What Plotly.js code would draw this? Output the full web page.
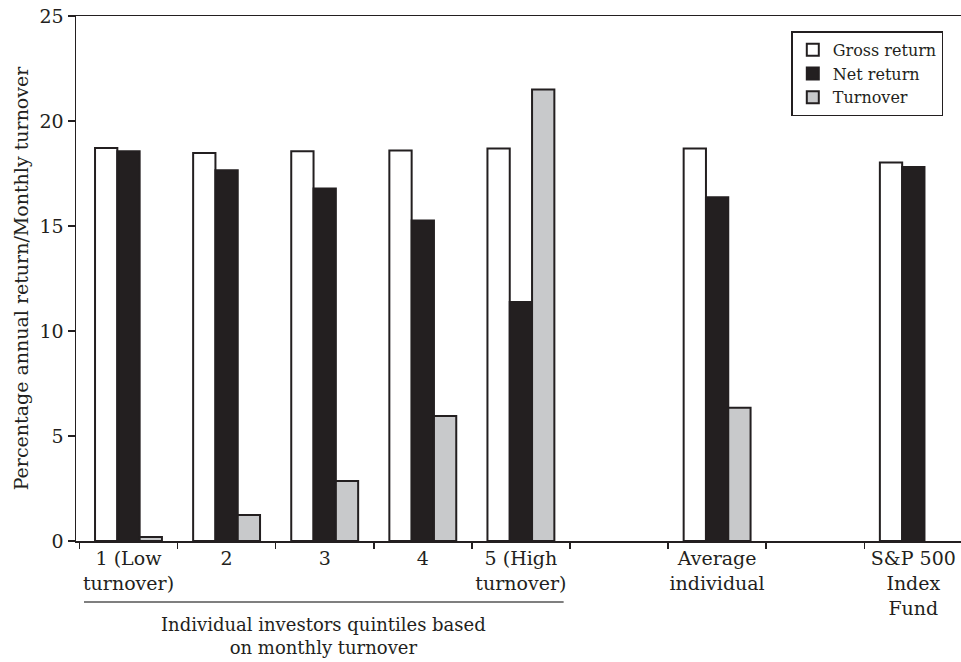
<!DOCTYPE html>
<html>
<head>
<meta charset="utf-8">
<script src="https://cdn.plot.ly/plotly-3.0.1.min.js"></script>
<style>html,body{margin:0;padding:0;background:#fff;}#chart{width:961px;height:662px;}</style>
</head>
<body>
<div id="chart"></div>
<script>
// Categories (blank entries are the gaps between groups)
var categories = ["1 (Low<br>turnover)", "2", "3", "4", "5 (High<br>turnover)", " ", "Average<br>individual", "  ", "S&P 500<br>Index<br>Fund"];
var grossReturn = [18.71, 18.48, 18.56, 18.60, 18.69, null, 18.69, null, 18.02];
var netReturn   = [18.56, 17.65, 16.78, 15.26, 11.38, null, 16.37, null, 17.81];
var turnover    = [0.19, 1.24, 2.86, 5.95, 21.50, null, 6.35, null, null];
var seriesNames = ["Gross return", "Net return", "Turnover"];
var groupTitle = "Individual investors quintiles based<br>on monthly turnover";
var yTitle = "Percentage annual return/Monthly turnover";

var ink = "#231f20";
var font = "DejaVu Serif, serif";

function bar(name, y, fill) {
  return {
    type: "bar", name: name, x: categories, y: y,
    marker: {color: fill, line: {color: ink, width: 2}},
    hoverinfo: "x+y"
  };
}
var data = [
  bar(seriesNames[0], grossReturn, "#ffffff"),
  bar(seriesNames[1], netReturn, ink),
  bar(seriesNames[2], turnover, "#c8c9cb")
];

var layout = {
  width: 961, height: 662,
  margin: {l: 76, r: 0, t: 16, b: 121},
  paper_bgcolor: "#fff", plot_bgcolor: "#fff",
  font: {family: font, color: ink, size: 19},
  barmode: "group", bargap: 0.318, bargroupgap: 0,
  showlegend: true,
  legend: {
    x: 0.98, xanchor: "right", y: 0.971, yanchor: "top",
    bordercolor: ink, borderwidth: 1.5, bgcolor: "#fff",
    font: {family: font, size: 16, color: ink},
    tracegroupgap: 0, itemwidth: 30
  },
  xaxis: {
    type: "category", categoryorder: "array", categoryarray: categories,
    range: [-0.535, 8.486], fixedrange: true,
    showline: true, linecolor: ink, linewidth: 1.5, mirror: true,
    showgrid: false, zeroline: false,
    ticks: "outside", tickson: "boundaries", ticklen: 6, tickwidth: 1.5, tickcolor: ink,
    tickfont: {family: font, size: 19, color: ink}, tickangle: 0
  },
  yaxis: {
    range: [0, 25], tickvals: [0, 5, 10, 15, 20, 25], fixedrange: true,
    showline: true, linecolor: ink, linewidth: 1.5,
    showgrid: false, zeroline: false,
    ticks: "outside", ticklen: 7, tickwidth: 1.5, tickcolor: ink,
    tickfont: {family: font, size: 19, color: ink},
    title: {text: yTitle, font: {family: font, size: 19, color: ink}}
  },
  shapes: [{
    type: "line", xref: "paper", yref: "paper",
    x0: 0.009, x1: 0.551, y0: -0.116, y1: -0.116,
    line: {color: "#555", width: 1.5}
  }],
  annotations: [{
    xref: "paper", yref: "paper", x: 0.28, y: -0.135,
    xanchor: "center", yanchor: "top", showarrow: false,
    text: groupTitle, font: {family: font, size: 18, color: ink}
  }]
};

Plotly.newPlot("chart", data, layout, {displayModeBar: false, staticPlot: true});
</script>
</body>
</html>
